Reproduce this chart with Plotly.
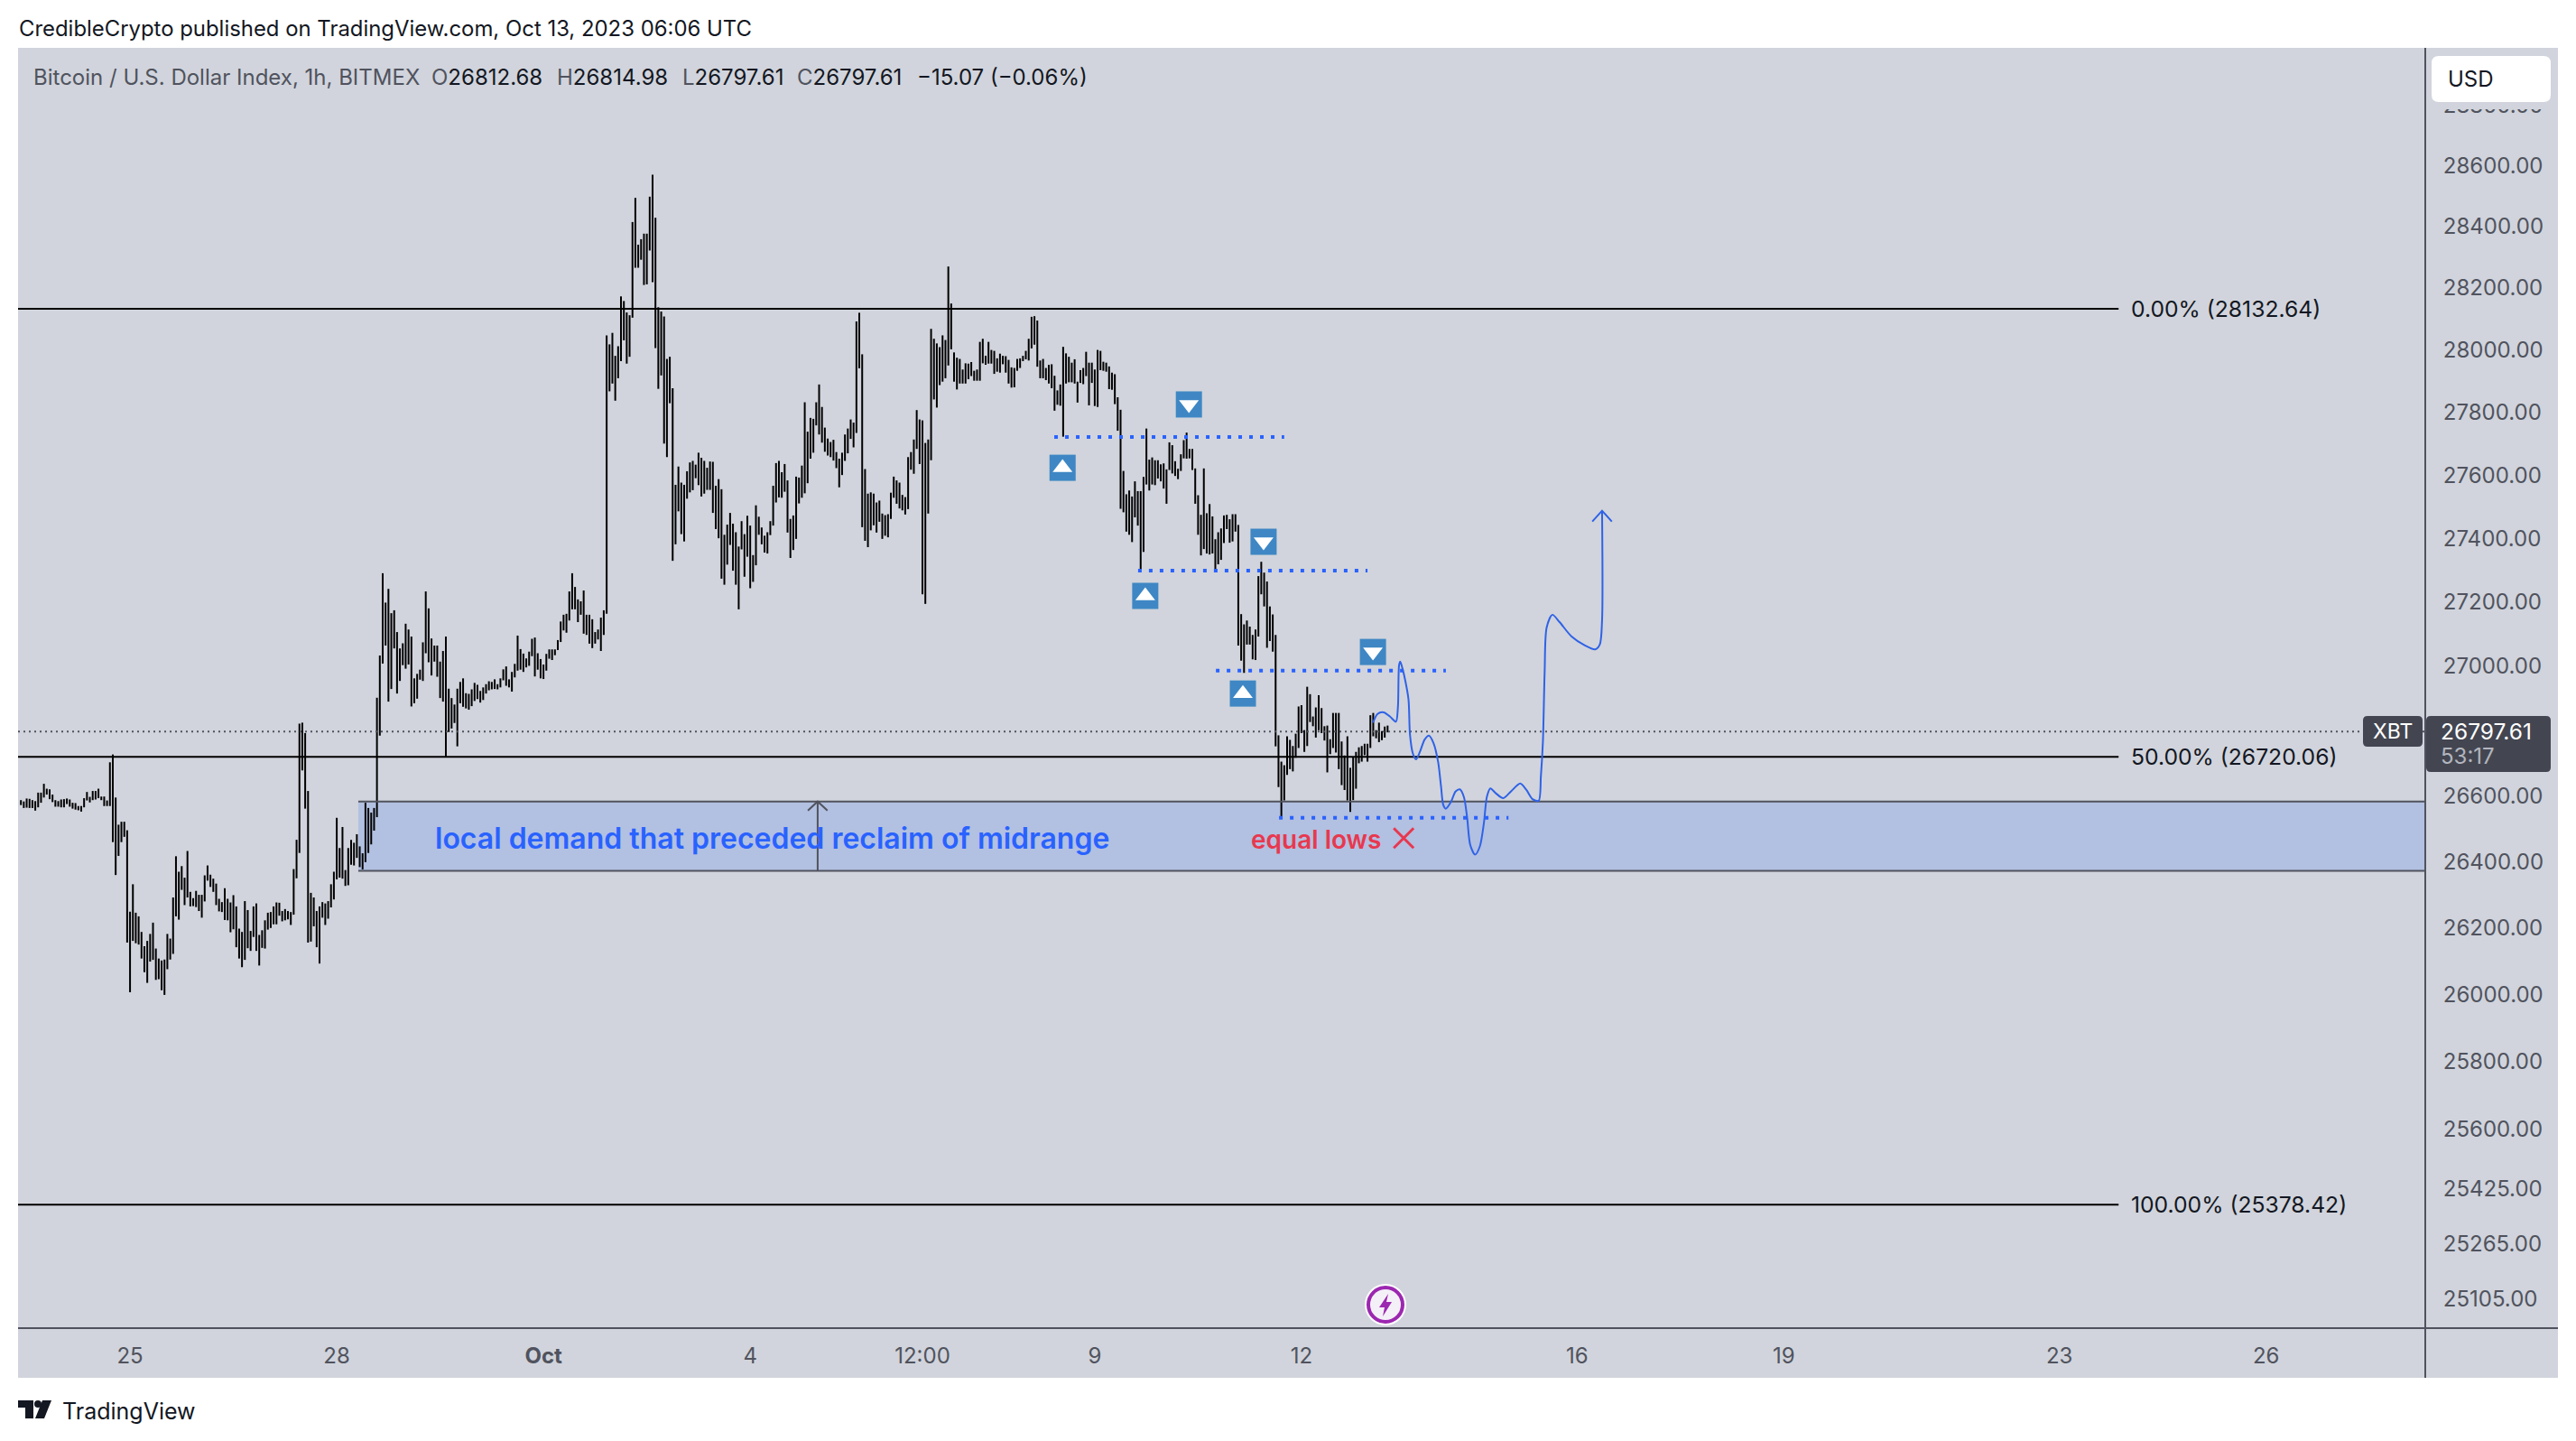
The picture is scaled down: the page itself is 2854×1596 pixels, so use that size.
import math
import pandas as pd
import plotly.graph_objects as go

# hourly bars, first one on Sep 23 10:00 UTC
bar_high = [
    26587,26583,26592,26591,26587,26584,26610,26610,26637,26622,
    26620,26604,26587,26584,26589,26590,26592,26589,26579,26578,
    26569,26569,26593,26612,26597,26615,26615,26622,26598,26598,
    26586,26703,26727,26595,26512,26521,26521,26495,26248,26331,
    26245,26234,26187,26144,26160,26181,26215,26137,26107,26101,
    26104,26181,26167,26291,26416,26369,26386,26351,26432,26308,
    26289,26311,26299,26299,26358,26388,26360,26348,26333,26287,
    26277,26319,26287,26276,26298,26264,26197,26187,26280,26253,
    26190,26264,26273,26178,26192,26222,26245,26247,26264,26276,
    26275,26250,26256,26250,26247,26377,26466,26822,26825,26793,
    26615,26305,26291,26250,26264,26277,26273,26280,26331,26369,
    26533,26441,26505,26374,26441,26466,26457,26483,26446,26425,
    26579,26563,26549,26563,
    26902,27033,27290,27198,27241,27165,27174,27106,27055,27071,
    27132,27114,27092,26962,26976,26989,27074,27233,27180,27086,
    27064,27064,27014,27047,27092,26930,26901,26881,26930,26951,
    26962,26916,26914,26928,26948,26942,26923,26934,26944,26953,
    26951,26959,26944,26962,26990,26999,26959,26982,27007,27095,
    27053,27039,27024,27045,27085,27089,27040,27022,27005,27038,
    27052,27052,27052,27081,27139,27160,27163,27233,27290,27247,
    27208,27202,27236,27160,27160,27146,27106,27114,27151,27174,
    28047,28018,28055,27981,28012,28173,28158,28121,28112,28415,
    28494,28341,28359,28377,28377,28498,28570,28429,28138,28124,
    28108,27971,27978,27877,27569,27627,27576,27569,27612,27640,
    27645,27633,27671,27655,27645,27623,27643,27642,27566,27587,
    27555,27411,27443,27480,27446,27419,27374,27454,27413,27471,
    27440,27347,27504,27468,27434,27408,27419,27454,27566,27638,
    27645,27609,27635,27583,27461,27472,27595,27592,27630,27832,
    27738,27782,27779,27832,27889,27817,27751,27716,27705,27712,
    27673,27652,27671,27729,27748,27777,27767,28092,28120,27986,
    27619,27541,27545,27541,27513,27519,27478,27473,27476,27544,
    27595,27583,27576,27537,27530,27657,27673,27713,27807,27777,
    27774,27702,27713,28068,28036,28021,28009,28047,28032,28270,
    28150,27992,27975,
    27971,27937,27957,27956,27961,27933,27937,28026,28036,27981,
    28026,28000,27997,27973,27988,27981,27980,27968,27944,27942,
    27971,27973,27981,27997,28036,28107,28109,28095,27966,27971,
    27942,27952,27954,27917,27870,27889,28010,27989,27978,27959,
    27970,27898,27935,27942,27994,27959,27959,27937,28000,27997,
    27962,27959,27947,27927,27922,27848,27808,27613,27539,27551,
    27532,27580,27549,27549,27594,27748,27649,27656,27647,27647,
    27634,27637,27618,27704,27695,27644,27620,27666,27711,27735,
    27683,27683,27621,27536,27474,27621,27479,27508,27469,27397,
    27419,27431,27472,27474,27460,27476,27476,
    27442,27162,27130,27142,27123,27097,27114,27281,27326,27292,
    27264,27186,27161,27097,26786,26705,26694,26783,26772,26753,
    26791,26875,26879,26802,26936,26913,26844,26872,26910,26870,
    26814,26816,26774,26855,26855,26855,26767,26724,26783,26686,
    26720,26735,26749,26753,26760,26760,26848,26855,26802,26825,
    26799,26813,26816,
]
bar_low = [
    26572,26563,26564,26563,26563,26555,26565,26579,26595,26604,
    26590,26581,26567,26567,26565,26565,26575,26567,26561,26558,
    26556,26552,26565,26586,26580,26587,26589,26593,26587,26569,
    26569,26569,26459,26359,26417,26459,26475,26155,26006,26160,
    26153,26149,26107,26066,26034,26098,26103,26043,26045,26012,
    25998,26075,26104,26121,26234,26224,26314,26268,26291,26264,
    26265,26262,26250,26230,26279,26342,26323,26308,26268,26249,
    26247,26223,26222,26186,26195,26141,26107,26081,26103,26138,
    26130,26172,26130,26086,26139,26137,26194,26199,26210,26210,
    26236,26219,26222,26225,26208,26239,26349,26426,26678,26561,
    26155,26158,26204,26141,26092,26230,26208,26227,26261,26285,
    26346,26351,26348,26326,26328,26390,26388,26411,26383,26376,
    26398,26426,26452,26494,
    26535,26785,27008,27064,26890,26929,27055,26915,26954,27003,
    26992,27005,26875,26885,26899,26958,26954,27040,27012,26971,
    27014,26967,26901,26890,26721,26796,26807,26824,26752,26885,
    26874,26869,26865,26876,26892,26898,26887,26895,26915,26925,
    26928,26929,26928,26934,26956,26939,26934,26921,26965,26986,
    26989,26982,26996,27001,27031,26968,26989,26962,26960,26986,
    27023,27019,27034,27050,27075,27111,27104,27142,27177,27177,
    27137,27160,27101,27097,27070,27056,27070,27083,27047,27097,
    27163,27867,27892,27837,27909,27964,28031,27956,27978,28104,
    28266,28266,28292,28210,28212,28322,28219,28006,27875,27918,
    27700,27657,27829,27329,27381,27485,27413,27390,27525,27545,
    27552,27590,27568,27532,27541,27553,27553,27480,27429,27400,
    27273,27254,27317,27379,27298,27254,27177,27365,27279,27342,
    27243,27263,27315,27411,27381,27355,27352,27410,27440,27513,
    27529,27528,27547,27418,27338,27363,27398,27510,27528,27542,
    27574,27652,27671,27758,27729,27703,27674,27662,27657,27646,
    27622,27561,27600,27645,27669,27715,27688,27734,27941,27435,
    27392,27372,27425,27441,27418,27452,27398,27408,27403,27461,
    27528,27509,27494,27488,27475,27492,27617,27604,27683,27635,
    27224,27194,27478,27647,27841,27815,27887,27898,27909,27950,
    28002,27898,27873,
    27892,27892,27892,27906,27916,27901,27901,27901,27957,27952,
    27956,27956,27923,27930,27927,27954,27927,27892,27879,27880,
    27933,27942,27964,27970,27966,28005,28017,27946,27909,27909,
    27903,27892,27877,27805,27824,27821,27722,27892,27896,27896,
    27892,27831,27894,27890,27916,27822,27894,27820,27817,27935,
    27933,27930,27874,27872,27826,27741,27493,27482,27421,27411,
    27388,27466,27440,27301,27357,27570,27551,27570,27568,27589,
    27580,27557,27509,27616,27605,27597,27587,27613,27653,27652,
    27653,27616,27509,27411,27346,27366,27352,27349,27352,27301,
    27318,27332,27385,27429,27386,27390,27421,
    27064,27017,26979,27067,27067,27021,27019,27092,27224,27186,
    27057,27078,27045,26752,26627,26535,26586,26664,26682,26675,
    26717,26747,26793,26735,26753,26827,26814,26779,26802,26793,
    26770,26672,26728,26747,26733,26682,26633,26618,26586,26551,
    26587,26622,26700,26705,26725,26705,26747,26783,26777,26765,
    26771,26779,26795,
]

fib_levels = [28132.64, 26720.06, 25378.42]
fib_names = ["0.00%", "50.00%", "100.00%"]
last_price = 26797.61
zone_top = 26583
zone_bottom = 26372

# drawings are placed in hours after Sep 25 00:00
dotted_start = [321.9, 351.1, 378.2, 400.2]
dotted_end = [402.0, 431.0, 458.3, 480.1]
dotted_price = [27721, 27298, 26986, 26533]
up_hours = [324.8, 353.6, 387.6]
up_price = [27623, 27219, 26915]
down_hours = [368.8, 394.8, 432.9]
down_price = [27825, 27389, 27044]
path_hours = [432.9,434.5,436.6,438.8,440.9,441.6,442.0,442.4,443.2,444.3,445.3,445.8,
              446.8,447.9,449.3,450.9,452.4,454.0,455.6,456.6,457.4,458.3,460.1,461.7,
              463.2,464.6,465.7,466.8,468.5,470.1,471.5,472.6,473.8,475.7,478.3,481.0,
              484.2,486.3,488.5,490.6,491.4,492.1,492.7,493.4,495.4,497.9,502.1,506.6,
              510.3,511.9,512.7,512.7]
path_price = [26825,26852,26857,26844,26828,26874,27003,27014,26992,26949,26895,26788,
              26730,26712,26736,26773,26785,26762,26704,26630,26572,26561,26582,26614,
              26620,26596,26534,26450,26421,26445,26514,26598,26623,26608,26593,26614,
              26638,26619,26590,26585,26661,26767,26981,27120,27160,27137,27092,27065,
              27052,27067,27143,27487]

y_ticks = [28800,28600,28400,28200,28000,27800,27600,27400,27200,27000,26600,
           26400,26200,26000,25800,25600,25425,25265,25105]
x_tick_dates = ["2023-09-25","2023-09-28","2023-10-01","2023-10-04","2023-10-06 12:00",
                "2023-10-09","2023-10-12","2023-10-16","2023-10-19","2023-10-23","2023-10-26"]
x_tick_text = ["25","28","<b>Oct</b>","4","12:00","9","12","16","19","23","26"]

GREY = "#d1d4dc"
AXIS = "#50535e"
INK = "#131722"
BLUE = "#2962ff"
PATH_BLUE = "#2f62e6"
FONT = "Inter"

# page body has an 8px margin, everything below is in page pixels
OFF = 8
LEFT, RIGHT, TOP, BOTTOM = 20, 2686, 53, 1470


def px(x):
    return (x - LEFT) / (RIGHT - LEFT)


def py(y):
    return (BOTTOM - y) / (BOTTOM - TOP)


def at(hours):
    return pd.Timestamp("2023-09-25") + pd.to_timedelta(hours, unit="h")


def rounded(x0, y0, x1, y1, r, color):
    p = (f"M{px(x0+r)},{py(y0)} L{px(x1-r)},{py(y0)} Q{px(x1)},{py(y0)} {px(x1)},{py(y0+r)} "
         f"L{px(x1)},{py(y1-r)} Q{px(x1)},{py(y1)} {px(x1-r)},{py(y1)} "
         f"L{px(x0+r)},{py(y1)} Q{px(x0)},{py(y1)} {px(x0)},{py(y1-r)} "
         f"L{px(x0)},{py(y0+r)} Q{px(x0)},{py(y0)} {px(x0+r)},{py(y0)} Z")
    return dict(type="path", xref="paper", yref="paper", path=p, fillcolor=color,
                line_width=0, layer="above")


def polygon(points, color):
    p = "M" + " L".join(f"{px(x)},{py(y)}" for x, y in points) + " Z"
    return dict(type="path", xref="paper", yref="paper", path=p, fillcolor=color,
                line_width=0, layer="above")


def label(x, y, text, size=24, color=INK, anchor="left", weight=400):
    return dict(xref="paper", yref="paper", x=px(x), y=py(y), text=text, showarrow=False,
                xanchor=anchor, yanchor="middle", font=dict(family=FONT, size=size, color=color, weight=weight))


bar_time = pd.date_range("2023-09-23 10:00", periods=len(bar_high), freq="h")
x_left, x_right = at(-39.0), at(799.1)

fig = go.Figure()

# fib levels and last price, zone edges
for level in [zone_top, zone_bottom]:
    fig.add_trace(go.Scatter(x=[at(79.5), x_right], y=[level, level], mode="lines",
                             line=dict(color=AXIS, width=2)))
for level in fib_levels:
    fig.add_trace(go.Scatter(x=[x_left, at(692.6)], y=[level, level], mode="lines",
                             line=dict(color="#000000", width=2)))
fig.add_trace(go.Scatter(x=[x_left, x_right], y=[last_price, last_price], mode="lines",
                         line=dict(color=AXIS, width=2, dash="2px,4px")))

fig.add_trace(go.Ohlc(x=bar_time, open=bar_low, high=bar_high, low=bar_low, close=bar_high,
                      tickwidth=0, line_width=2,
                      increasing_line_color="#000000", decreasing_line_color="#000000"))

# arrow inside the zone
fig.add_trace(go.Scatter(x=[at(239.5), at(239.5)], y=[zone_bottom, zone_top], mode="lines",
                         line=dict(color=AXIS, width=2)))
fig.add_trace(go.Scatter(x=[at(236.1), at(239.5), at(242.9)], y=[26555, zone_top, 26555],
                         mode="lines", line=dict(color=AXIS, width=2)))

for h0, h1, price in zip(dotted_start, dotted_end, dotted_price):
    fig.add_trace(go.Scatter(x=[at(h0), at(h1)], y=[price, price], mode="lines",
                             line=dict(color=BLUE, width=4, dash="4px,8px")))

# projected path
fig.add_trace(go.Scatter(x=[at(h) for h in path_hours], y=path_price, mode="lines",
                         line=dict(color=PATH_BLUE, width=2, shape="spline", smoothing=0.8)))
fig.add_trace(go.Scatter(x=[at(509.3), at(512.7), at(516.1)], y=[27453, 27487, 27453],
                         mode="lines", line=dict(color=PATH_BLUE, width=2)))

# flip markers
fig.add_trace(go.Scatter(x=[at(h) for h in up_hours + down_hours], y=up_price + down_price,
                         mode="markers", marker=dict(symbol="square", size=29, color="#3e87c4")))
fig.add_trace(go.Scatter(x=[at(h) for h in up_hours], y=up_price, mode="markers",
                         marker=dict(symbol="triangle-up", size=19, color="#ffffff")))
fig.add_trace(go.Scatter(x=[at(h) for h in down_hours], y=down_price, mode="markers",
                         marker=dict(symbol="triangle-down", size=19, color="#ffffff")))
fig.add_trace(go.Scatter(x=[at(443.6)], y=[26471], mode="markers",
                         marker=dict(symbol="x-thin", size=22, line=dict(color="#e8384f", width=3))))

shapes = [
    dict(type="rect", xref="paper", yref="paper", x0=px(20), x1=px(2834), y0=py(1526), y1=py(53),
         fillcolor=GREY, line_width=0, layer="below"),
    # demand zone sits under the bars
    dict(type="rect", xref="x", yref="y", x0=at(79.5), x1=x_right, y0=zone_bottom, y1=zone_top,
         fillcolor="#b2c0e1", line_width=0, layer="below"),
    # axis lines run on to the panel edges
    dict(type="line", xref="paper", yref="paper", x0=px(2686), x1=px(2834), y0=py(1471), y1=py(1471),
         line=dict(color=AXIS, width=2), layer="above"),
    dict(type="line", xref="paper", yref="paper", x0=px(2687), x1=px(2687), y0=py(1471), y1=py(1526),
         line=dict(color=AXIS, width=2), layer="above"),
    # covers the top tick behind the currency button
    dict(type="rect", xref="paper", yref="paper", x0=px(2689), x1=px(2834), y0=py(121), y1=py(53),
         fillcolor=GREY, line_width=0, layer="above"),
    rounded(2694, 62, 2826, 113, 8, "#ffffff"),
    rounded(2618, 793, 2684, 827, 5, "#434651"),
    rounded(2688, 793, 2826, 855, 5, "#434651"),
    dict(type="circle", xref="paper", yref="paper", x0=px(1512), x1=px(1558), y0=py(1468), y1=py(1422),
         fillcolor="#ffffff", line_width=0, layer="above"),
    dict(type="circle", xref="paper", yref="paper", x0=px(1516), x1=px(1554), y0=py(1464), y1=py(1426),
         fillcolor="#f4f0f7", line=dict(color="#9c27b0", width=4), layer="above"),
    polygon([(1538, 1433), (1528, 1448), (1534, 1448), (1532, 1458), (1542, 1442), (1536, 1442)], "#9c27b0"),
    # logo
    polygon([(20, 1551), (37, 1551), (37, 1571), (28, 1571), (28, 1559), (20, 1559)], INK),
    polygon([(47, 1551), (57, 1551), (49, 1571), (39, 1571)], INK),
    dict(type="circle", xref="paper", yref="paper", x0=px(38), x1=px(46), y0=py(1559), y1=py(1551),
         fillcolor=INK, line_width=0, layer="above"),
]

annotations = [
    label(19, 31, "CredibleCrypto published on TradingView.com, Oct 13, 2023 06:06 UTC", size=23.9),
    label(35, 86, "Bitcoin / U.S. Dollar Index, 1h, BITMEX", color=AXIS),
    label(476, 86, f'<span style="color:{AXIS}">O</span>26812.68'),
    label(615, 86, f'<span style="color:{AXIS}">H</span>26814.98'),
    label(754, 86, f'<span style="color:{AXIS}">L</span>26797.61'),
    label(881, 86, f'<span style="color:{AXIS}">C</span>26797.61'),
    label(1014, 86, "−15.07 (−0.06%)"),
    label(480, 928, "local demand that preceded reclaim of midrange", size=32, color=BLUE, weight=600),
    label(1384, 930, "equal lows", size=28, color="#e8384f", weight=600),
    label(2710, 87, "USD"),
    label(2651, 810, "XBT", size=23, color="#ffffff", anchor="center"),
    label(2702, 810, f"{last_price:.2f}", size=24.5, color="#ffffff"),
    label(2702, 837, "53:17", size=24, color="#b2b5be"),
    label(67, 1563, "TradingView", size=25),
]
for level, name in zip(fib_levels, fib_names):
    annotations.append(dict(xref="paper", yref="y", x=px(2359), y=math.log10(level),
                            text=f"{name} ({level:.2f})", showarrow=False, xanchor="left",
                            yanchor="middle", font=dict(family=FONT, size=24.7, color=INK)))

fig.update_layout(
    width=2854 - 2 * OFF, height=1596 - 2 * OFF, autosize=False,
    margin=dict(l=LEFT - OFF, r=2854 - OFF - RIGHT, t=TOP - OFF, b=1596 - OFF - BOTTOM, pad=0),
    paper_bgcolor="#ffffff", plot_bgcolor=GREY, showlegend=False, hovermode=False,
    shapes=shapes, annotations=annotations,
    font=dict(family=FONT, color=AXIS),
    xaxis=dict(type="date", range=[x_left, x_right], rangeslider_visible=False, showgrid=False,
               zeroline=False, showline=True, linecolor=AXIS, linewidth=2, ticks="",
               tickmode="array", tickvals=x_tick_dates, ticktext=x_tick_text,
               tickfont=dict(family=FONT, size=24, color=AXIS), ticklabelstandoff=9),
    yaxis=dict(type="log", side="right", range=[math.log10(25023), math.log10(28990)],
               showgrid=False, zeroline=False, showline=True, linecolor=AXIS, linewidth=2, ticks="",
               tickmode="array", tickvals=y_ticks, ticktext=[f"{v:.2f}" for v in y_ticks],
               tickfont=dict(family=FONT, size=24, color=AXIS), ticklabelstandoff=14),
)

fig.write_html("out.html")
